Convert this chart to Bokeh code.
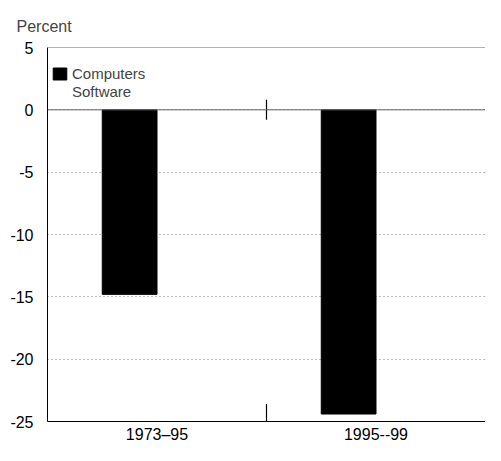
from bokeh.plotting import figure
from bokeh.models import ColumnDataSource, FactorRange, Span, Legend, LegendItem, FixedTicker
from bokeh.transform import dodge
from bokeh.embed import file_html
from bokeh.resources import INLINE

# Data
periods = ["1973–95", "1995--99"]
computers = [-14.8, -24.4]
software = [0.0, 0.0]
y_ticks = [5, 0, -5, -10, -15, -20, -25]

FONT = "Liberation Sans"

src = ColumnDataSource(data=dict(period=periods, computers=computers, software=software))

p = figure(x_range=FactorRange(*periods), y_range=(-25, 5),
           width=485, height=445, output_backend="svg", toolbar_location=None,
           min_border_left=47, min_border_right=0, min_border_top=47, min_border_bottom=5)

p.title.text = "Percent"
p.title.text_font = FONT
p.title.text_font_size = "16px"
p.title.text_font_style = "normal"
p.title.align = "left"
p.title.vertical_align = "top"
p.title.offset = -31
p.title.standoff = 22

r1 = p.vbar(x=dodge("period", -0.125, range=p.x_range), top="computers", bottom=0,
            width=0.25, source=src, fill_color="black", line_color="black")
r2 = p.vbar(x=dodge("period", 0.125, range=p.x_range), top="software", bottom=0,
            width=0.25, source=src, fill_color="white", line_color=None)

legend = Legend(items=[LegendItem(label="Computers", renderers=[r1]),
                       LegendItem(label="Software", renderers=[r2])],
                margin=0, padding=0, spacing=0,
                glyph_width=17, glyph_height=15, label_height=18,
                label_text_font=FONT, label_text_font_size="15px",
                label_standoff=4, border_line_color=None, background_fill_alpha=0)
legend.location = (4, 321)
p.add_layout(legend)

# grid and axes
p.xgrid.grid_line_color = None
p.ygrid.grid_line_color = "#777777"
p.ygrid.grid_line_dash = "1 3"
p.ygrid.grid_line_width = 1
p.outline_line_color = None

p.yaxis.ticker = FixedTicker(ticks=y_ticks)
p.yaxis.major_label_overrides = {t: str(t) for t in y_ticks}
p.yaxis.major_tick_line_color = None
p.yaxis.major_tick_out = 0
p.yaxis.minor_tick_line_color = None
p.yaxis.major_label_standoff = 14
p.yaxis.axis_line_color = "black"
p.yaxis.major_label_text_font = FONT
p.yaxis.major_label_text_font_size = "16px"
p.yaxis.major_label_text_color = "black"

p.xaxis.major_tick_line_color = None
p.xaxis.major_tick_out = 0
p.xaxis.axis_line_color = "black"
p.xaxis.major_label_standoff = 4
p.xaxis.major_label_text_font = FONT
p.xaxis.major_label_text_font_size = "16px"
p.xaxis.major_label_text_color = "black"

p.add_layout(Span(location=0, dimension="width", line_color="#666666", line_width=1))
p.add_layout(Span(location=5, dimension="width", line_color="#666666", line_width=1))

# category separators
p.segment(x0=[1, 1], x1=[1, 1], y0=[-0.8, -25], y1=[0.8, -23.6], line_color="black", line_width=1.2)

open("out.html", "w").write(file_html(p, INLINE))
